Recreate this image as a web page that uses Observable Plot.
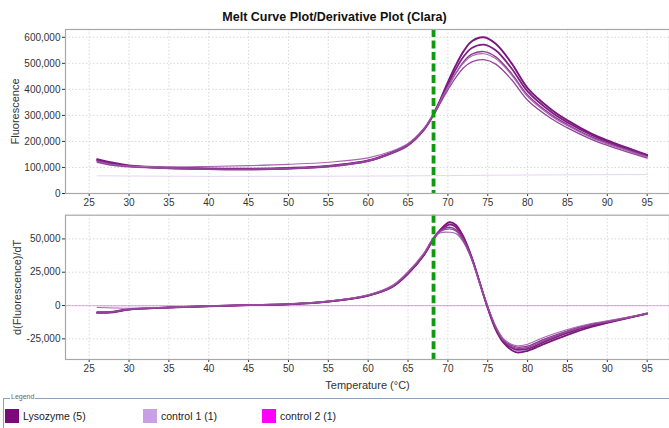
<!DOCTYPE html>
<html>
<head>
<meta charset="utf-8">
<script src="https://cdn.jsdelivr.net/npm/d3@7"></script>
<script src="https://cdn.jsdelivr.net/npm/@observablehq/plot@0.6"></script>
<style>
  body { margin:0; background:#fff; }
  #chart { position:relative; width:669px; height:428px; background:#fff; overflow:hidden; font-family:"Liberation Sans", Arial, sans-serif; }
  #title { position:absolute; left:0; top:10px; width:669px; text-align:center; font-weight:bold; font-size:12.5px; color:#111; }
  .panel { position:absolute; left:0; }
  #legendBox { position:absolute; left:3px; top:398px; width:680px; height:40px; border-top:1px solid #8fa3b8; border-left:1px solid #8fa3b8; }
  #legendTitle { position:absolute; left:10px; top:393px; font-size:7px; color:#666; background:#fff; padding:0 1px; }
  .item { position:absolute; top:409px; height:14px; font-size:10.5px; color:#222; line-height:14px; }
  .sw { display:inline-block; width:14px; height:14px; vertical-align:top; margin-right:4px; }
</style>
</head>
<body>
<div id="chart">
  <div id="title">Melt Curve Plot/Derivative Plot (Clara)</div>
  <div id="p1" class="panel" style="top:0px"></div>
  <div id="p2" class="panel" style="top:195px"></div>
  <div id="legendBox"></div>
  <div id="legendTitle">Legend</div>
  <div id="legendItems"></div>
</div>
<script>
// ---------- data ----------
const seriesNames = ["Lysozyme (5)", "control 1 (1)", "control 2 (1)"];
const seriesColors = ["#7a0a7a", "#c9a0e6", "#ff00ff"];

const xTicks = [25, 30, 35, 40, 45, 50, 55, 60, 65, 70, 75, 80, 85, 90, 95];
const fluorTicks = [0, 100000, 200000, 300000, 400000, 500000, 600000];
const derivTicks = [-25000, 0, 25000, 50000];
const markerTemp = [68.2];

// Melt curve (fluorescence), thousands
const meltTemps = [26,28,30,35,40,45,50,55,60,63,65,67,68,69,70,71,72,73,74.5,76,78,80,83,85,88,90,95];
const lysoA = [132,118,108,100,96,95,98,106,127,158,188,248,295,357,428,493,548,585,600,575,500,405,322,281,230,204,148];
const lysoB = [128,115,106,98,94,93,96,104,125,156,186,246,293,352,418,478,527,559,572,550,480,392,312,273,225,199,146];
const lysoC = [125,112,104,97,93,92,95,103,124,154,184,243,290,347,408,462,507,535,545,525,460,378,302,265,218,194,142];
const lysoD = [122,110,105,102,104,107,112,120,137,163,192,250,296,352,410,462,503,528,537,518,455,372,297,260,214,190,140];
const lysoE = [120,108,102,96,94,94,97,105,126,157,188,247,292,345,398,446,484,506,514,497,437,358,287,252,208,185,136];
const control1Temps = [26, 40, 60, 80, 95];
const control1Melt = [68, 66, 67, 71, 73];
const control2Level = [0];

// Derivative, thousands
const derivTemps = [26,28,30,35,40,45,50,55,60,63,65,67,68.2,69,70.2,71,72,73,74,75,76,77,78.5,80,82,85,88,90,95];
const dA = [-5.5,-5,-3,-1.5,-0.5,0.3,1,3,7.5,14,24,38,50,56.5,62.5,60.5,51,36,17,-2,-18,-28,-35,-34,-29,-22,-16,-13,-6];
const dB = [-5,-4.5,-2.8,-1.4,-0.4,0.3,1,3,7.5,14,24,38,50,56,60.8,59,50,35.5,17,-1.5,-17,-27,-33,-32.5,-27.5,-20.5,-15,-12.5,-6];
const dC = [-5.5,-4.8,-3,-1.5,-0.5,0.3,1,3.2,7.8,14.5,25,39,51,56,58.8,57,49,35,17,-1,-16,-26,-31,-30.5,-25.5,-19,-14,-12,-6];
const dD = [-1.5,-1.8,-2,-1.3,-0.4,0.3,1.1,3.2,8,15,25.5,39.5,51,54.5,55,54,47,34,16.5,-1,-15.5,-25,-30,-29,-24,-18,-13.5,-11.5,-6];
const dE = [-5,-4.6,-2.9,-1.5,-0.5,0.3,1,3,7.6,14.2,24.5,38.5,50.5,55.5,57.5,56,48,35,17,-1.2,-16.5,-26.5,-32,-31.5,-26.5,-19.5,-14.5,-12.3,-6];
const control1Deriv = [-0.5, 0, 0, 0, 0];

// ---------- build rows ----------
const lysoStyles = [
  {stroke:"#7a167c", w:1.9}, {stroke:"#7e1e82", w:1.8}, {stroke:"#8c3a90", w:1.4},
  {stroke:"#a866b0", w:1.1}, {stroke:"#94469a", w:1.3}
];
function rows(temps, vals, id) { return temps.map((t, i) => ({t, v: vals[i] * 1000, id})); }
const meltSets = [lysoA, lysoB, lysoC, lysoD, lysoE];
const derivSets = [dA, dB, dC, dD, dE];

const xDomain = [22.03, 97.8];
const fmt = d => d.toLocaleString("en-US");
const font = "Liberation Sans, Arial, sans-serif";
const style = {fontFamily: font, fontSize: "10px", color: "#333", background: "transparent", overflow: "visible"};
const gridStyle = {stroke: "#cfcfcf", strokeOpacity: 1, strokeDasharray: "1.5,2", strokeWidth: 0.8};

function lysoMarks(sets, temps) {
  return sets.map((vals, i) => Plot.line(rows(temps, vals, i), {
    x: "t", y: "v", stroke: lysoStyles[i].stroke, strokeWidth: lysoStyles[i].w, curve: "catmull-rom"
  }));
}

// ---------- top panel ----------
const p1 = Plot.plot({
  width: 669, height: 215,
  marginTop: 29, marginBottom: 22, marginLeft: 65, marginRight: 0,
  style,
  x: {domain: xDomain, ticks: xTicks, tickSize: 3, tickPadding: 2, label: null},
  y: {domain: [0, 630000], ticks: fluorTicks, tickFormat: fmt, tickSize: 3, tickPadding: 2,
      label: "Fluorescence", labelAnchor: "center", labelArrow: "none", labelOffset: 54},
  marks: [
    Plot.gridX(xTicks, {...gridStyle}),
    Plot.gridY(fluorTicks, {...gridStyle}),
    Plot.line(rows(control1Temps, control1Melt, "c1"), {x: "t", y: "v", stroke: seriesColors[1], strokeWidth: 1, strokeOpacity: 0.45, curve: "catmull-rom"}),
    Plot.ruleY(control2Level, {stroke: seriesColors[2], strokeOpacity: 0.35, strokeWidth: 1.2}),
    ...lysoMarks(meltSets, meltTemps),
    Plot.ruleX(markerTemp, {stroke: "#109a10", strokeWidth: 3.8, strokeDasharray: "8,3.5"}),
    Plot.frame({stroke: "#a8a8a8", strokeWidth: 1.2})
  ]
});
document.getElementById("p1").appendChild(p1);

// ---------- bottom panel ----------
const p2 = Plot.plot({
  width: 669, height: 200,
  marginTop: 19.7, marginBottom: 36, marginLeft: 65, marginRight: 0,
  style,
  x: {domain: xDomain, ticks: xTicks, tickSize: 3, tickPadding: 2,
      label: "Temperature (°C)", labelAnchor: "center", labelArrow: "none", labelOffset: 29},
  y: {domain: [-40500, 67800], ticks: derivTicks, tickFormat: fmt, tickSize: 3, tickPadding: 2,
      label: "d(Fluorescence)/dT", labelAnchor: "center", labelArrow: "none", labelOffset: 52},
  marks: [
    Plot.gridX(xTicks, {...gridStyle}),
    Plot.gridY(derivTicks, {...gridStyle}),
    Plot.ruleY(control2Level, {stroke: seriesColors[2], strokeOpacity: 0.3, strokeWidth: 1.2}),
    Plot.line(rows(control1Temps, control1Deriv, "c1"), {x: "t", y: "v", stroke: seriesColors[1], strokeWidth: 1, strokeOpacity: 0.45}),
    ...lysoMarks(derivSets, derivTemps),
    Plot.ruleX(markerTemp, {stroke: "#109a10", strokeWidth: 3.8, strokeDasharray: "8,3.5"}),
    Plot.frame({stroke: "#a8a8a8", strokeWidth: 1.2})
  ]
});
document.getElementById("p2").appendChild(p2);

// axis label font sizes
for (const svg of [p1, p2]) {
  svg.querySelectorAll("g[aria-label='x-axis label'] text, g[aria-label='y-axis label'] text").forEach(t => t.setAttribute("font-size", "11px"));
}

// ---------- legend ----------
const legendX = [5, 143, 262];
const legend = document.getElementById("legendItems");
seriesNames.forEach((name, i) => {
  const d = document.createElement("div");
  d.className = "item";
  d.style.left = legendX[i] + "px";
  d.innerHTML = `<span class="sw" style="background:${seriesColors[i]}"></span>${name}`;
  legend.appendChild(d);
});
</script>
</body>
</html>
